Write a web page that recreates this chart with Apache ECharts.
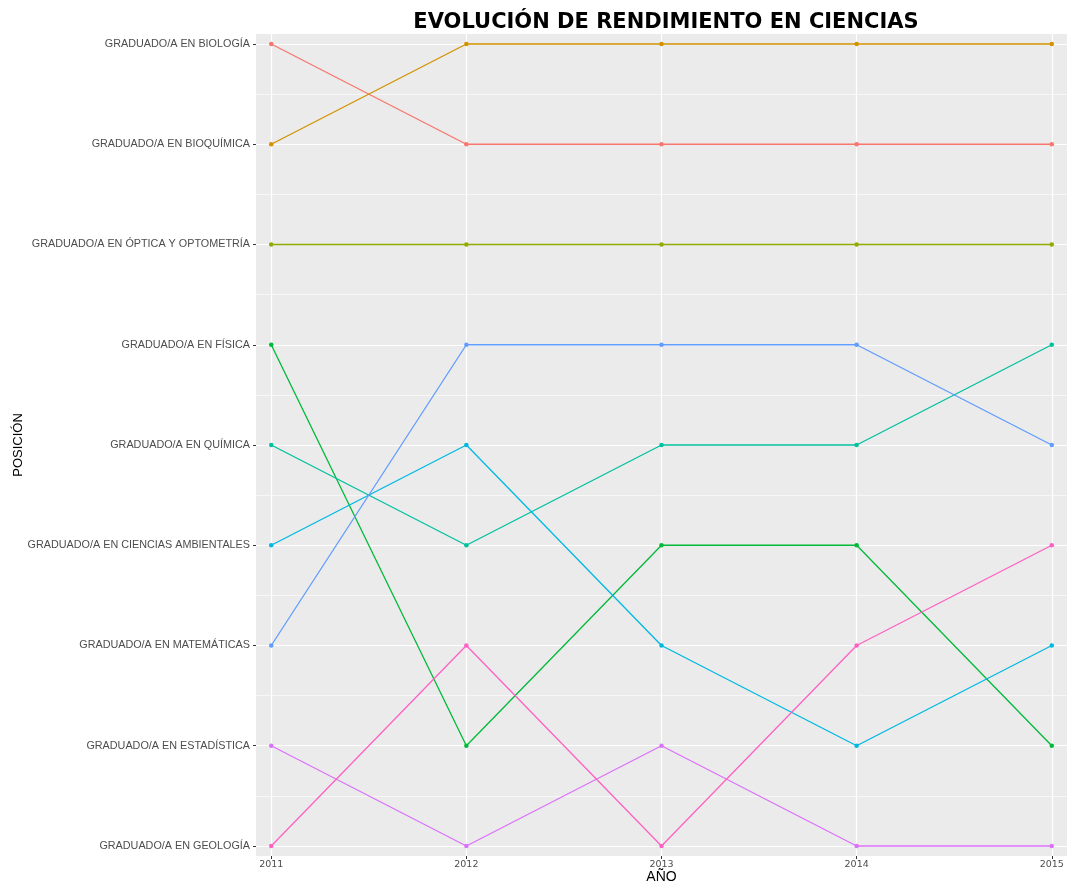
<!DOCTYPE html>
<html>
<head>
<meta charset="utf-8">
<script src="https://cdn.jsdelivr.net/npm/echarts@6/dist/echarts.min.js"></script>
<style>
  html, body { margin: 0; padding: 0; background: #fff; }
  #chart { width: 1073px; height: 885px; }
</style>
</head>
<body>
<div id="chart"></div>
<script>
// años (eje x)
const years = [2011, 2012, 2013, 2014, 2015];
// posiciones, de arriba (1) a abajo (9)
const categories = [
  'GRADUADO/A EN BIOLOGÍA',
  'GRADUADO/A EN BIOQUÍMICA',
  'GRADUADO/A EN ÓPTICA Y OPTOMETRÍA',
  'GRADUADO/A EN FÍSICA',
  'GRADUADO/A EN QUÍMICA',
  'GRADUADO/A EN CIENCIAS AMBIENTALES',
  'GRADUADO/A EN MATEMÁTICAS',
  'GRADUADO/A EN ESTADÍSTICA',
  'GRADUADO/A EN GEOLOGÍA'
];
// posición de cada serie por año
const serieA = [1, 2, 2, 2, 2];
const serieB = [2, 1, 1, 1, 1];
const serieC = [3, 3, 3, 3, 3];
const serieD = [4, 8, 6, 6, 8];
const serieE = [5, 6, 5, 5, 4];
const serieF = [6, 5, 7, 8, 7];
const serieG = [7, 4, 4, 4, 5];
const serieH = [8, 9, 8, 9, 9];
const serieI = [9, 7, 9, 7, 6];

const seriesList = [serieA, serieB, serieC, serieD, serieE, serieF, serieG, serieH, serieI];
const colors = ['#F8766D', '#D39200', '#93AA00', '#00BA38', '#00C19F', '#00B9E3', '#619CFF', '#DB72FB', '#FF61C3'];

const positions = categories.map((c, i) => i + 1);
const minorPositions = positions.slice(0, -1).map(p => p + 0.5);

let myChart = echarts.init(document.getElementById('chart'));

// lineas de la rejilla (blancas, debajo de todo)
const gridSeries = {
  type: 'line',
  data: [],
  z: 1,
  silent: true,
  markLine: {
    z: 1,
    silent: true,
    symbol: ['none', 'none'],
    label: { show: false },
    animation: false,
    data: [
      ...minorPositions.map(p => ({ yAxis: p, lineStyle: { color: '#fff', width: 0.6, type: 'solid' } })),
      ...positions.map(p => ({ yAxis: p, lineStyle: { color: '#fff', width: 1.2, type: 'solid' } })),
      ...years.map(y => ({ xAxis: y, lineStyle: { color: '#fff', width: 1.2, type: 'solid' } }))
    ]
  }
};

const dataSeries = seriesList.map((s, i) => ({
  type: 'line',
  z: 3,
  data: s.map((v, j) => [years[j], v]),
  symbol: 'circle',
  symbolSize: 4.5,
  color: colors[i],
  lineStyle: { width: 1.3, color: colors[i] },
  itemStyle: { color: colors[i], borderWidth: 0 }
}));

var option = {
  animation: false,
  title: {
    text: 'EVOLUCIÓN DE RENDIMIENTO EN CIENCIAS',
    left: 661,
    textAlign: 'center',
    top: 7,
    textStyle: { fontFamily: 'DejaVu Sans', fontWeight: 'bold', fontSize: 21, color: '#000' }
  },
  grid: {
    left: 256, right: 6, top: 34, bottom: 29,
    outerBoundsMode: 'none',
    containLabel: false,
    show: true, backgroundColor: '#EBEBEB', borderWidth: 0
  },
  xAxis: {
    type: 'value',
    min: 2010.922,
    max: 2015.078,
    name: 'AÑO',
    nameLocation: 'middle',
    nameGap: 14,
    nameMoveOverlap: false,
    nameTextStyle: { fontFamily: 'Liberation Sans', fontSize: 14, color: '#000' },
    axisLine: { show: false },
    splitLine: { show: false },
    axisTick: { show: true, customValues: years, length: 3, lineStyle: { color: '#333' } },
    axisLabel: {
      customValues: years,
      margin: 4,
      fontFamily: 'DejaVu Sans', fontSize: 9.5, color: '#4D4D4D',
      formatter: v => String(v)
    }
  },
  yAxis: {
    type: 'value',
    inverse: true,
    min: 0.9,
    max: 9.1,
    name: 'POSICIÓN',
    nameLocation: 'middle',
    nameGap: 231,
    nameMoveOverlap: false,
    nameRotate: 90,
    nameTextStyle: { fontFamily: 'Liberation Sans', fontSize: 13, color: '#000' },
    axisLine: { show: false },
    splitLine: { show: false },
    axisTick: { show: true, customValues: positions, length: 3, lineStyle: { color: '#333' } },
    axisLabel: {
      customValues: positions,
      margin: 6,
      fontFamily: 'Liberation Sans', fontSize: 10.8, color: '#4D4D4D',
      formatter: v => categories[Math.round(v) - 1] || ''
    }
  },
  series: [gridSeries, ...dataSeries]
};
myChart.setOption(option);
</script>
</body>
</html>
